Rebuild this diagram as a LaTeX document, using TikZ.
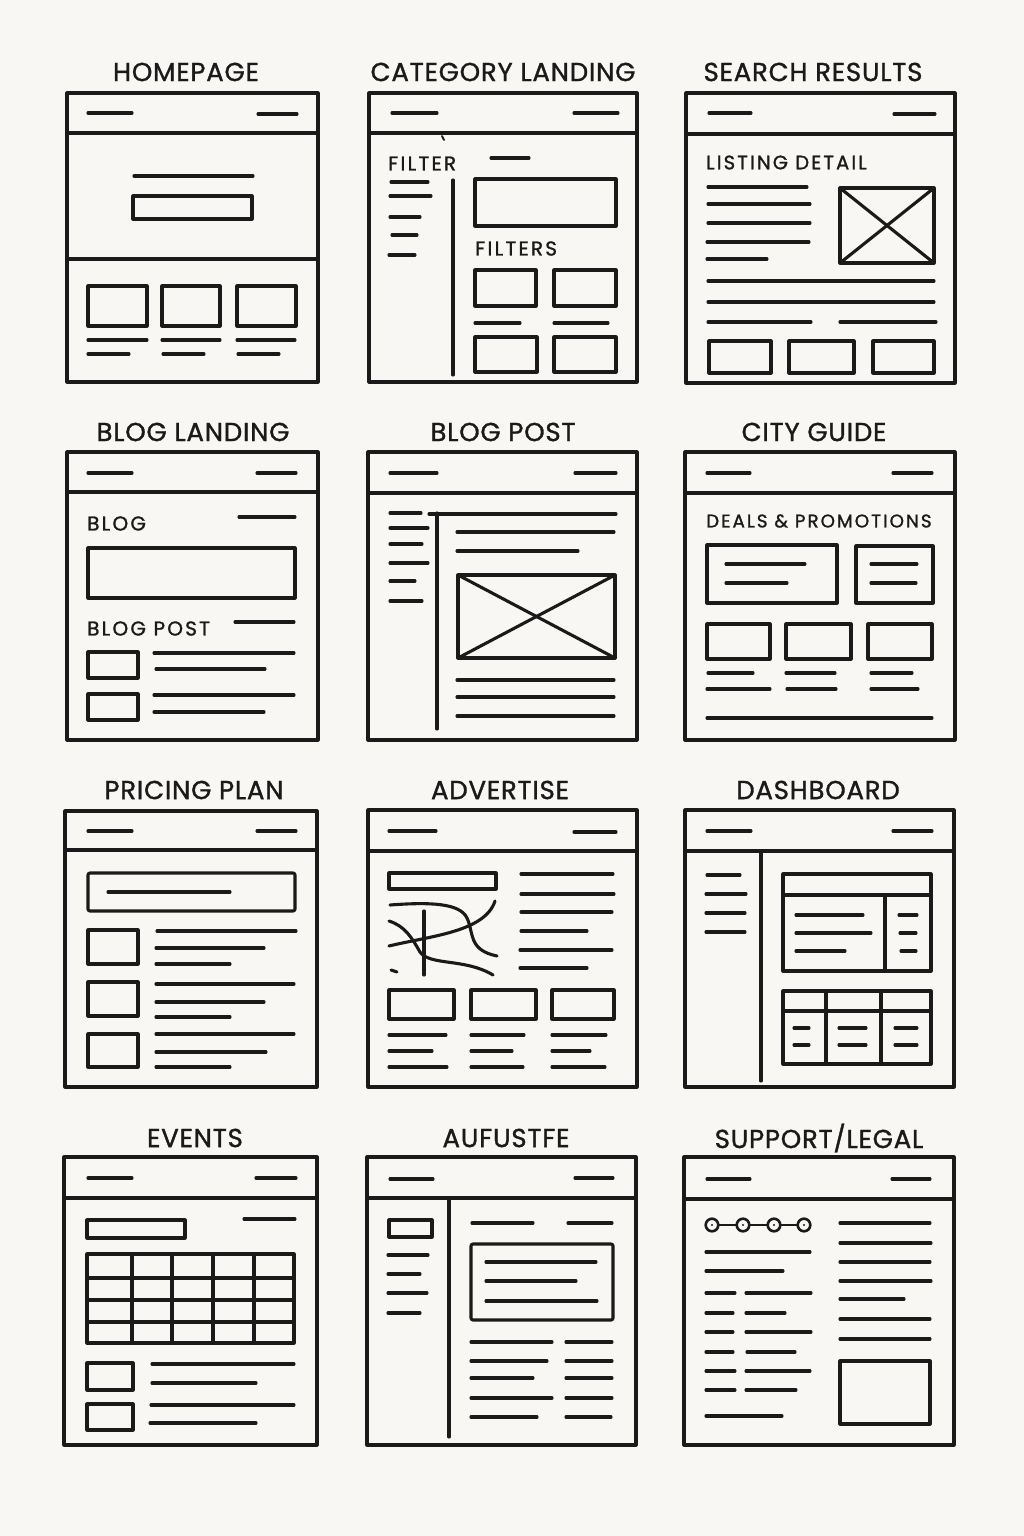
\documentclass[tikz,border=0pt]{standalone}
\usepackage{fontspec}
\setmainfont{Poppins}
\newfontfamily\titlefont[LetterSpace=3,FakeBold=1.2]{Poppins}
\newfontfamily\labelfont[LetterSpace=11,FakeBold=1.2]{Poppins}
\definecolor{paper}{HTML}{F8F7F3}
\definecolor{ink}{HTML}{1A1A1A}
\tikzset{
  frame/.style={draw=ink, line width=3.1pt, line join=round},
  bx/.style={draw=ink, line width=3.1pt, line join=round},
  ln/.style={draw=ink, line width=3.1pt, line cap=round},
  title/.style={inner sep=0pt, text=ink, font=\titlefont\fontsize{26}{29}\selectfont},
  lbl/.style={inner sep=0pt, anchor=west, text=ink, font=\labelfont\fontsize{20}{22}\selectfont},
}
% horizontal stroke: x1, x2, y
\newcommand\hseg[3]{\draw[ln] (#1,#3) -- (#2,#3);}
% rectangle outline: x1, y1, x2, y2
\newcommand\rbox[4]{\draw[bx] (#1,#2) rectangle (#3,#4);}
% browser window with header bar: x1, y1, x2, y2, header divider y
\newcommand\window[5]{\draw[frame] (#1,#2) rectangle (#3,#4); \draw[frame] (#1,#5) -- (#3,#5);}
\begin{document}
\begin{tikzpicture}[x=1pt,y=-1pt]
\fill[paper] (0,0) rectangle (1024,1536);
\useasboundingbox (0,0) rectangle (1024,1536);

% ---------------- titles ----------------
\node[title] (t1)  at (186,72)   {HOMEPAGE};
\node[title] (t2)  at (503,72)   {CATEGORY LANDING};
\node[title] (t3)  at (813,72)   {SEARCH RESULTS};
\node[title] (t4)  at (193,432)  {BLOG LANDING};
\node[title] (t5)  at (503,432)  {BLOG POST};
\node[title] (t6)  at (814,432)  {CITY GUIDE};
\node[title] (t7)  at (194,790)  {PRICING PLAN};
\node[title] (t8)  at (500,790)  {ADVERTISE};
\node[title] (t9)  at (818,790)  {DASHBOARD};
\node[title] (t10) at (195,1138) {EVENTS};
\node[title] (t11) at (506,1138) {AUFUSTFE};
\node[title] (t12) at (819,1138) {SUPPORT/LEGAL};

% ---------------- homepage ----------------
\window{67}{93}{318}{382}{133}
\draw[frame] (67,259) -- (318,259);
\hseg{88}{132}{113} \hseg{258}{297}{114}
\hseg{134}{253}{176}
\rbox{133}{196}{252}{219}
\rbox{88}{286}{147}{326} \rbox{162}{286}{220}{326} \rbox{237}{286}{296}{326}
\hseg{88}{147}{340} \hseg{162}{220}{340} \hseg{237}{295}{340}
\hseg{88}{129}{354} \hseg{163}{204}{354} \hseg{238}{279}{354}

% ---------------- category landing ----------------
\window{369}{93}{637}{382}{133}
\hseg{392}{437}{113} \hseg{574}{618}{113}
\draw[ln, line width=1.8pt] (442,136) -- (444,140);
\node[lbl] (l2a) at (388,163.5) {FILTER};
\hseg{491}{529}{158}
\hseg{391}{428}{182} \hseg{390}{431}{196} \hseg{390}{420}{217} \hseg{392}{417}{235} \hseg{389}{415}{255}
\draw[ln] (453,180) -- (453,375);
\rbox{475}{179}{616}{226}
\node[lbl] (l2b) at (475,248.5) {FILTERS};
\rbox{475}{270}{536}{306} \rbox{554}{270}{616}{306}
\hseg{475}{520}{323} \hseg{554}{608}{323}
\rbox{475}{337}{537}{372} \rbox{554}{337}{616}{372}

% ---------------- search results ----------------
\window{686}{93}{955}{383}{134}
\hseg{709}{751}{113} \hseg{894}{935}{114}
\node[lbl, font=\labelfont\fontsize{19.5}{21}\selectfont] (l3a) at (706,162.5) {LISTING DETAIL};
\hseg{708}{807}{187} \hseg{708}{810}{204} \hseg{708}{810}{223} \hseg{707}{809}{242} \hseg{707}{767}{259}
\rbox{840}{188}{934}{263}
\draw[ln] (840,188) -- (934,263); \draw[ln] (934,188) -- (840,263);
\hseg{708}{934}{281} \hseg{708}{934}{302}
\hseg{708}{811}{322} \hseg{840}{936}{322}
\rbox{709}{341}{771}{373} \rbox{789}{341}{854}{373} \rbox{873}{341}{934}{373}

% ---------------- blog landing ----------------
\window{67}{452}{318}{740}{492}
\hseg{88}{132}{473} \hseg{257}{296}{473}
\node[lbl] (l4a) at (87,523.5) {BLOG};
\hseg{239}{295}{517}
\rbox{88}{548}{295}{598}
\node[lbl] (l4b) at (87,628.5) {BLOG POST};
\hseg{235}{294}{622}
\rbox{88}{652}{138}{678} \rbox{88}{694}{138}{720}
\hseg{154}{294}{653} \hseg{156}{265}{669} \hseg{154}{294}{695} \hseg{154}{264}{712}

% ---------------- blog post ----------------
\window{368}{452}{637}{740}{493}
\hseg{390}{437}{473} \hseg{575}{616}{473}
\hseg{390}{421}{513} \hseg{390}{428}{528} \hseg{390}{422}{544}
\hseg{390}{428}{563} \hseg{390}{415}{581} \hseg{390}{422}{601}
\draw[ln] (437,513) -- (437,729);
\hseg{429}{616}{514}
\hseg{457}{614}{532} \hseg{457}{578}{551}
\rbox{458}{575}{615}{658}
\draw[ln] (458,575) -- (615,658); \draw[ln] (615,575) -- (458,658);
\hseg{457}{614}{680} \hseg{457}{614}{697} \hseg{457}{614}{716}

% ---------------- city guide ----------------
\window{685}{452}{955}{740}{493}
\hseg{707}{750}{473} \hseg{893}{932}{473}
\node[lbl, font=\labelfont\fontsize{18.3}{20}\selectfont] (l6a) at (706,521) {DEALS \& PROMOTIONS};
\rbox{707}{545}{837}{603}
\hseg{726}{805}{564} \hseg{726}{787}{583}
\rbox{856}{546}{933}{603}
\hseg{871}{917}{564} \hseg{871}{916}{583}
\rbox{707}{624}{770}{659} \rbox{786}{624}{851}{659} \rbox{868}{624}{932}{659}
\hseg{708}{753}{673} \hseg{786}{835}{673} \hseg{871}{912}{673}
\hseg{707}{770}{689} \hseg{787}{836}{689} \hseg{871}{918}{689}
\hseg{707}{932}{718}

% ---------------- pricing plan ----------------
\window{65}{811}{317}{1087}{850}
\hseg{88}{132}{831} \hseg{257}{296}{831}
\draw[bx, rounded corners=2pt] (88,873) rectangle (295,911);
\hseg{108}{230}{892}
\rbox{88}{930}{138}{964} \rbox{88}{982}{138}{1016} \rbox{88}{1034}{138}{1067}
\hseg{157}{296}{931} \hseg{156}{264}{948} \hseg{156}{230}{964}
\hseg{156}{294}{984} \hseg{156}{264}{1002} \hseg{156}{230}{1017}
\hseg{156}{294}{1034} \hseg{156}{266}{1052} \hseg{156}{230}{1067}

% ---------------- advertise ----------------
\window{368}{810}{637}{1087}{851}
\hseg{389}{436}{831} \hseg{574}{616}{832}
\rbox{389}{873}{496}{889}
\hseg{521}{613}{874} \hseg{521}{614}{894} \hseg{521}{612}{912}
\hseg{521}{587}{931} \hseg{520}{612}{950} \hseg{520}{587}{968}
% map sketch
\draw[ln] (390,905) .. controls (430,902) and (460,903) .. (467,918)
          .. controls (474,933) and (468,950) .. (497,956);
\draw[ln] (389,921) .. controls (405,926) and (412,938) .. (420,952)
          .. controls (430,966) and (465,958) .. (493,975);
\draw[ln] (389,946) .. controls (430,936) and (485,932) .. (495,901);
\draw[ln] (424,911) -- (424,975);
\draw[ln] (391,970) -- (397,972);
\rbox{389}{990}{454}{1019} \rbox{471}{990}{536}{1019} \rbox{552}{990}{614}{1019}
\hseg{389}{446}{1035} \hseg{471}{524}{1035} \hseg{552}{606}{1035}
\hseg{389}{432}{1051} \hseg{471}{512}{1051} \hseg{552}{590}{1051}
\hseg{389}{447}{1067} \hseg{471}{523}{1067} \hseg{552}{605}{1067}

% ---------------- dashboard ----------------
\window{685}{810}{954}{1087}{851}
\hseg{707}{751}{831} \hseg{893}{932}{831}
\draw[ln] (761,851) -- (761,1081);
\hseg{707}{740}{875} \hseg{706}{746}{894} \hseg{706}{745}{913} \hseg{706}{745}{932}
\rbox{783}{874}{931}{971}
\draw[bx] (783,895) -- (931,895);
\draw[bx] (885,895) -- (885,971);
\hseg{796}{863}{915} \hseg{796}{871}{933} \hseg{796}{845}{951}
\hseg{899}{917}{915} \hseg{900}{916}{933} \hseg{901}{916}{951}
\rbox{783}{991}{931}{1064}
\draw[bx] (783,1011) -- (931,1011);
\draw[bx] (826,991) -- (826,1064);
\draw[bx] (881,991) -- (881,1064);
\hseg{794}{809}{1028} \hseg{839}{866}{1028} \hseg{895}{917}{1028}
\hseg{794}{809}{1045} \hseg{839}{866}{1045} \hseg{895}{917}{1045}

% ---------------- events ----------------
\window{64}{1157}{317}{1445}{1198}
\hseg{88}{132}{1178} \hseg{256}{296}{1178}
\rbox{87}{1220}{185}{1238}
\hseg{244}{295}{1219}
\rbox{87}{1254}{294}{1343}
\foreach \gx in {132,172,213,254} { \draw[bx] (\gx,1254) -- (\gx,1343); }
\foreach \gy in {1278,1300,1322} { \draw[bx] (87,\gy) -- (294,\gy); }
\rbox{87}{1363}{133}{1390} \rbox{87}{1404}{133}{1430}
\hseg{152}{294}{1364} \hseg{152}{256}{1383} \hseg{151}{294}{1405} \hseg{150}{256}{1423}

% ---------------- aufustfe ----------------
\window{367}{1157}{636}{1445}{1198}
\hseg{390}{433}{1179} \hseg{575}{613}{1178}
\draw[ln] (449,1198) -- (449,1437);
\rbox{389}{1220}{432}{1237}
\hseg{388}{428}{1255} \hseg{388}{420}{1274} \hseg{388}{427}{1293} \hseg{388}{420}{1313}
\hseg{472}{533}{1223} \hseg{568}{612}{1223}
\draw[bx, rounded corners=2pt] (471,1244) rectangle (613,1320);
\hseg{486}{596}{1262} \hseg{486}{576}{1281} \hseg{486}{597}{1301}
\hseg{471}{552}{1342} \hseg{471}{547}{1361} \hseg{471}{533}{1378} \hseg{471}{552}{1398} \hseg{471}{537}{1417}
\hseg{566}{612}{1342} \hseg{566}{612}{1361} \hseg{566}{612}{1378} \hseg{566}{612}{1398} \hseg{566}{611}{1417}

% ---------------- support / legal ----------------
\window{684}{1157}{954}{1445}{1199}
\hseg{707}{750}{1179} \hseg{892}{930}{1179}
\draw[ln, line width=2.2pt] (718.5,1225) -- (736.5,1225);
\draw[ln, line width=2.2pt] (749.5,1225) -- (767.5,1225);
\draw[ln, line width=2.2pt] (780.5,1225) -- (797.5,1225);
\foreach \cx in {712,743,774,804} {
  \draw[ink, line width=2.6pt] (\cx,1225) circle (6.3);
  \fill[ink] (\cx,1225) circle (1.2);
}
\hseg{706}{810}{1252} \hseg{706}{783}{1271}
\hseg{706}{735}{1293} \hseg{746}{811}{1293}
\hseg{706}{733}{1313} \hseg{746}{785}{1313}
\hseg{706}{733}{1332} \hseg{746}{811}{1332}
\hseg{706}{733}{1352} \hseg{747}{795}{1352}
\hseg{706}{735}{1371} \hseg{746}{810}{1371}
\hseg{706}{735}{1390} \hseg{746}{796}{1390}
\hseg{706}{782}{1416}
\hseg{840}{930}{1223} \hseg{840}{931}{1243} \hseg{840}{930}{1262} \hseg{840}{931}{1281}
\hseg{840}{904}{1299} \hseg{840}{930}{1319} \hseg{840}{930}{1339}
\rbox{840}{1361}{930}{1424}
\end{tikzpicture}
\end{document}
